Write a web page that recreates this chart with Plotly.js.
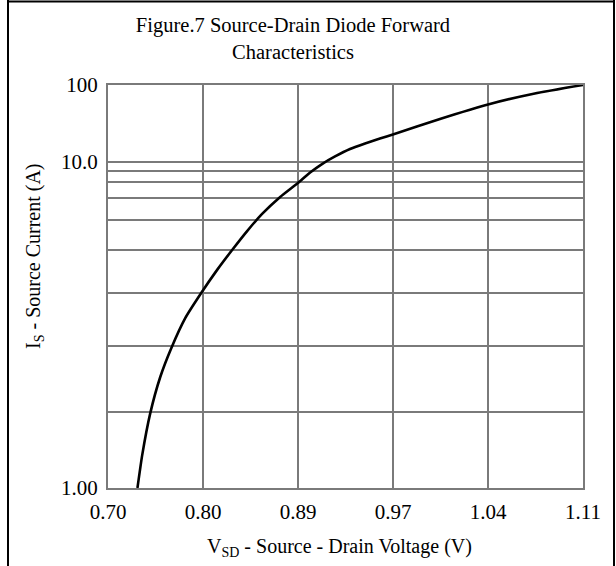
<!DOCTYPE html>
<html>
<head>
<meta charset="utf-8">
<script src="https://cdn.plot.ly/plotly-3.0.1.min.js"></script>
<style>
  html, body { margin: 0; padding: 0; background: #fff; }
  #chart { width: 616px; height: 566px; }
</style>
</head>
<body>
<div id="chart"></div>
<script>
// ---- data ----
const voltageTicks = [0.70, 0.80, 0.89, 0.97, 1.04, 1.11];
const voltageTickText = ['0.70', '0.80', '0.89', '0.97', '1.04', '1.11'];
const currentLabeled = [1, 10, 100];
const currentLabelText = ['1.00', '10.0', '100'];
const currentMinor = [2, 3, 4, 5, 6, 7, 8, 9];
const vsd = [0.731, 0.736, 0.7445, 0.755, 0.7666, 0.7813, 0.7981, 0.8134, 0.8276, 0.8418, 0.8560, 0.8731,
             0.8899, 0.9002, 0.9102, 0.9212, 0.9338, 0.9465, 0.9590, 0.9699, 1.0046, 1.040, 1.0745, 1.110];
const isrc = [1.00, 1.35, 1.98, 2.48, 2.96, 3.49, 4.00, 4.51, 5.00, 5.61, 6.26, 7.06,
              7.93, 8.85, 9.76, 11.8, 14.75, 17.4, 20.2, 22.8, 36.2, 55.8, 77.6, 100];

// ---- axis calibration of the (non-uniform) printed scales ----
const currentGrid = [1, 2, 3, 4, 5, 6, 7, 8, 9, 10, 100];
const gridRel = [0, 76, 142, 195, 238, 268, 290, 306, 317, 326, 403].map(v => v / 403);

function xPos(v) {
  for (let i = 0; i < voltageTicks.length - 1; i++) {
    if (v <= voltageTicks[i + 1] || i === voltageTicks.length - 2) {
      return i + (v - voltageTicks[i]) / (voltageTicks[i + 1] - voltageTicks[i]);
    }
  }
}
function yPos(c) {
  const lc = Math.log10(c);
  for (let i = 0; i < currentGrid.length - 1; i++) {
    const a = Math.log10(currentGrid[i]), b = Math.log10(currentGrid[i + 1]);
    if (lc <= b || i === currentGrid.length - 2) {
      return gridRel[i] + (lc - a) / (b - a) * (gridRel[i + 1] - gridRel[i]);
    }
  }
}

const W = 616, H = 566, L = 108, R = 583, T = 85, B = 488;
const px = x => (x - L) / (R - L);
const py = y => (B - y) / (B - T);
const serif = 'Liberation Serif, Times New Roman, serif';
const grid = '#7a7a7a';

const trace = {
  x: vsd.map(xPos),
  y: isrc.map(yPos),
  customdata: vsd.map((v, i) => [v, isrc[i]]),
  hovertemplate: 'V<sub>SD</sub>=%{customdata[0]} V<br>I<sub>S</sub>=%{customdata[1]} A<extra></extra>',
  mode: 'lines',
  type: 'scatter',
  line: { color: '#000', width: 2.6, shape: 'spline', smoothing: 0.5 }
};

const layout = {
  width: W, height: H,
  margin: { l: L, r: W - R, t: T, b: H - B },
  paper_bgcolor: '#fff', plot_bgcolor: '#fff',
  showlegend: false,
  font: { family: serif, size: 20, color: '#000' },
  title: {
    text: 'Figure.7 Source-Drain Diode Forward<br>Characteristics',
    font: { family: serif, size: 20.5, color: '#000' },
    x: 293 / W, xanchor: 'center',
    y: 1 - 32 / H, yanchor: 'middle', xref: 'container', yref: 'container'
  },
  xaxis: {
    range: [0, voltageTicks.length - 1],
    tickmode: 'array',
    tickvals: voltageTicks.map((v, i) => i),
    ticktext: voltageTickText,
    showgrid: true, gridcolor: grid, gridwidth: 2,
    showline: true, mirror: true, linecolor: grid, linewidth: 2,
    zeroline: false, ticks: '', ticklabelstandoff: 4,
    tickfont: { family: serif, size: 21, color: '#000' },
    fixedrange: true
  },
  yaxis: {
    range: [0, 1],
    tickmode: 'array',
    tickvals: currentLabeled.map(yPos),
    ticktext: currentLabelText,
    showgrid: true, gridcolor: grid, gridwidth: 2,
    minor: { tickmode: 'array', tickvals: currentMinor.map(yPos), showgrid: true, gridcolor: grid, gridwidth: 2, ticks: '' },
    showline: true, mirror: true, linecolor: grid, linewidth: 2,
    zeroline: false, ticks: '', ticklabelstandoff: 4,
    tickfont: { family: serif, size: 21, color: '#000' },
    fixedrange: true
  },
  annotations: [
    {
      text: 'V<sub>SD</sub> - Source - Drain Voltage (V)',
      xref: 'paper', yref: 'paper', x: px(339), y: py(547),
      xanchor: 'center', yanchor: 'middle', showarrow: false,
      font: { family: serif, size: 20, color: '#000' }
    },
    {
      text: 'I<sub>S</sub> - Source Current (A)',
      xref: 'paper', yref: 'paper', x: px(34), y: py(256),
      xanchor: 'center', yanchor: 'middle', textangle: -90, showarrow: false,
      font: { family: serif, size: 20, color: '#000' }
    }
  ],
  shapes: [
    { type: 'line', xref: 'paper', yref: 'paper', x0: px(8), x1: px(8), y0: py(0), y1: py(H), line: { color: '#000', width: 2 } },
    { type: 'line', xref: 'paper', yref: 'paper', x0: px(7), x1: px(615), y0: py(1.5), y1: py(1.5), line: { color: '#000', width: 2 } },
    { type: 'line', xref: 'paper', yref: 'paper', x0: px(614), x1: px(614), y0: py(0), y1: py(H), line: { color: '#000', width: 2 } }
  ]
};

Plotly.newPlot('chart', [trace], layout, { displayModeBar: false, staticPlot: true });
</script>
</body>
</html>
